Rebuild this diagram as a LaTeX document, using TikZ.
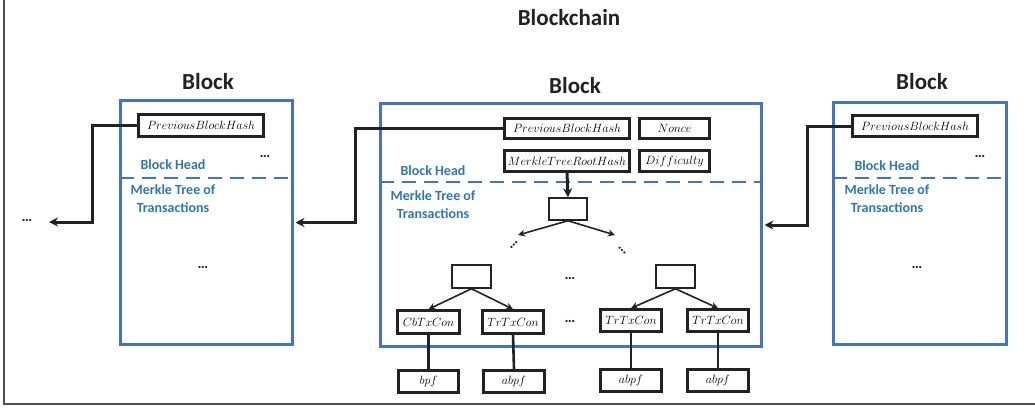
\documentclass[tikz,border=0pt]{standalone}
\usepackage{fontspec}
\setmainfont{Carlito}
\usetikzlibrary{arrows.meta}
\definecolor{bblue}{HTML}{4472C4}
\definecolor{tblue}{HTML}{2E75B6}
\definecolor{ink}{HTML}{222222}
\tikzset{
  blk/.style={draw=bblue, line width=3pt, inner sep=0pt},
  hbox/.style={draw=ink, line width=2.6pt, fill=white, inner sep=0pt, font=\fontsize{12}{14}\selectfont},
  ebox/.style={draw=ink, line width=1.5pt, fill=white, inner sep=0pt},
  conn/.style={draw=ink, line width=3pt, -{Stealth[length=9pt,width=9pt]}},
  link/.style={draw=ink, line width=2.6pt},
  tarr/.style={draw=ink, line width=1.6pt, -{Stealth[length=7pt,width=7pt]}},
  dsh/.style={draw=bblue, line width=2.6pt, dash pattern=on 14pt off 8pt},
  ttl/.style={font=\fontsize{23}{26}\selectfont\bfseries, text=ink, anchor=base, inner sep=0pt},
  bh/.style={font=\fontsize{14}{17}\selectfont\bfseries, text=tblue, anchor=base, inner sep=0pt},
  dotl/.style={font=\fontsize{15}{16}\selectfont\bfseries, text=ink, inner sep=0pt},
}
\begin{document}
\begin{tikzpicture}[x=1pt,y=-1pt]
\useasboundingbox (0,0) rectangle (1035,407);
% outer frame
\draw[draw=ink!80, line width=1.8pt] (4,-5) -- (4,404) -- (1040,404);
\node[ttl] (title) at (569,25) {Blockchain};

% blocks
\node[blk, minimum width=172pt, minimum height=244pt] (L) at (206.5,222.5) {};
\node[blk, minimum width=381pt, minimum height=243pt] (M) at (571,225) {};
\node[blk, minimum width=173pt, minimum height=242pt] (R) at (920,223.5) {};

\node[ttl] (tL) at (208,89) {Block};
\node[ttl] (tM) at (575,93) {Block};
\node[ttl] (tR) at (922,89) {Block};

% dashed separators
\draw[dsh] (120,178) -- (293,178);
\draw[dsh] (380,182) -- (762,182);
\draw[dsh] (833,178) -- (1007,178);

% labels
\node[bh] (bhL) at (173,169) {Block Head};
\node[bh] (bhM) at (433,175) {Block Head};
\node[bh] (bhR) at (887,170) {Block Head};
\node[bh] (mtL1) at (173,194) {Merkle Tree of};
\node[bh] (mtL2) at (173,212) {Transactions};
\node[bh] (mtM1) at (433,200) {Merkle Tree of};
\node[bh] (mtM2) at (433,218) {Transactions};
\node[bh] (mtR1) at (887,194) {Merkle Tree of};
\node[bh] (mtR2) at (887,212) {Transactions};

% left block content
\node[hbox, minimum width=125pt, minimum height=22pt] (lpbh) at (201,125.5) {$PreviousBlockHash$};
\node[dotl] (ldA) at (265,156) {\dots};
\node[dotl] (ldB) at (203,267) {\dots};
% right block content
\node[hbox, minimum width=125pt, minimum height=21pt] (rpbh) at (915,126) {$PreviousBlockHash$};
\node[dotl] (rdA) at (980,156) {\dots};
\node[dotl] (rdB) at (917,267) {\dots};

% middle block head
\node[hbox, minimum width=125pt, minimum height=20pt] (mpbh) at (567,128.5) {$PreviousBlockHash$};
\node[hbox, minimum width=70pt, minimum height=20pt] (nonce) at (674.5,128.5) {$Nonce$};
\node[hbox, minimum width=125pt, minimum height=21pt] (mtrh) at (567,161) {$MerkleTreeRootHash$};
\node[hbox, minimum width=70pt, minimum height=21pt] (diff) at (674.5,161) {$Difficulty$};

% merkle tree
\node[ebox, minimum width=38pt, minimum height=22pt] (root) at (568,209) {};
\coordinate (ta) at (518,235);
\coordinate (tb) at (615,235);
\node[dotl, rotate=45] (dd1) at (514,245) {\dots};
\node[dotl, rotate=-45] (dd2) at (622,251) {\dots};
\node[ebox, minimum width=39pt, minimum height=23pt] (nl) at (471.5,276.5) {};
\node[ebox, minimum width=39pt, minimum height=23pt] (nr) at (675.5,276.5) {};
\node[dotl] (md1) at (570,278) {\dots};
\node[hbox, minimum width=62pt, minimum height=23pt] (cb) at (428.5,322) {$CbTxCon$};
\node[hbox, minimum width=61pt, minimum height=23pt] (tr1) at (513,322) {$TrTxCon$};
\node[dotl] (md2) at (570,321) {\dots};
\node[hbox, minimum width=61pt, minimum height=22pt] (tr2) at (631,320.5) {$TrTxCon$};
\node[hbox, minimum width=61pt, minimum height=22pt] (tr3) at (718,320.5) {$TrTxCon$};
\node[hbox, minimum width=60pt, minimum height=22pt] (f1) at (428.5,381.5) {$bpf$};
\node[hbox, minimum width=61pt, minimum height=22pt] (f2) at (514,381.5) {$abpf$};
\node[hbox, minimum width=61pt, minimum height=22pt] (f3) at (631,380.5) {$abpf$};
\node[hbox, minimum width=61pt, minimum height=22pt] (f4) at (718,380.5) {$abpf$};

\draw[conn] (mtrh.south) -- (root.north);
\draw[tarr] (root.south) -- (ta);
\draw[tarr] (root.south) -- (tb);
\draw[tarr] (nl.south) -- (cb.north);
\draw[tarr] (nl.south) -- (tr1.north);
\draw[tarr] (nr.south) -- (tr2.north);
\draw[tarr] (nr.south) -- (tr3.north);
\draw[link] (cb.south) -- (f1.north);
\draw[link] (tr1.south) -- (f2.north);
\draw[link] (tr2.south) -- (f3.north);
\draw[link] (tr3.south) -- (f4.north);

% chain connectors
\node[dotl] (far) at (27,220) {\dots};
\coordinate (farend) at (49,222);
\draw[conn] (lpbh.west) -- ++(-45pt,0) |- (farend);
\draw[conn] (mpbh.west) -- ++(-148pt,0) |- ([xshift=1.5pt]L.east);
\draw[conn] (rpbh.west) -- ++(-44pt,0) |- ([xshift=1.5pt]M.east);
\end{tikzpicture}
\end{document}
